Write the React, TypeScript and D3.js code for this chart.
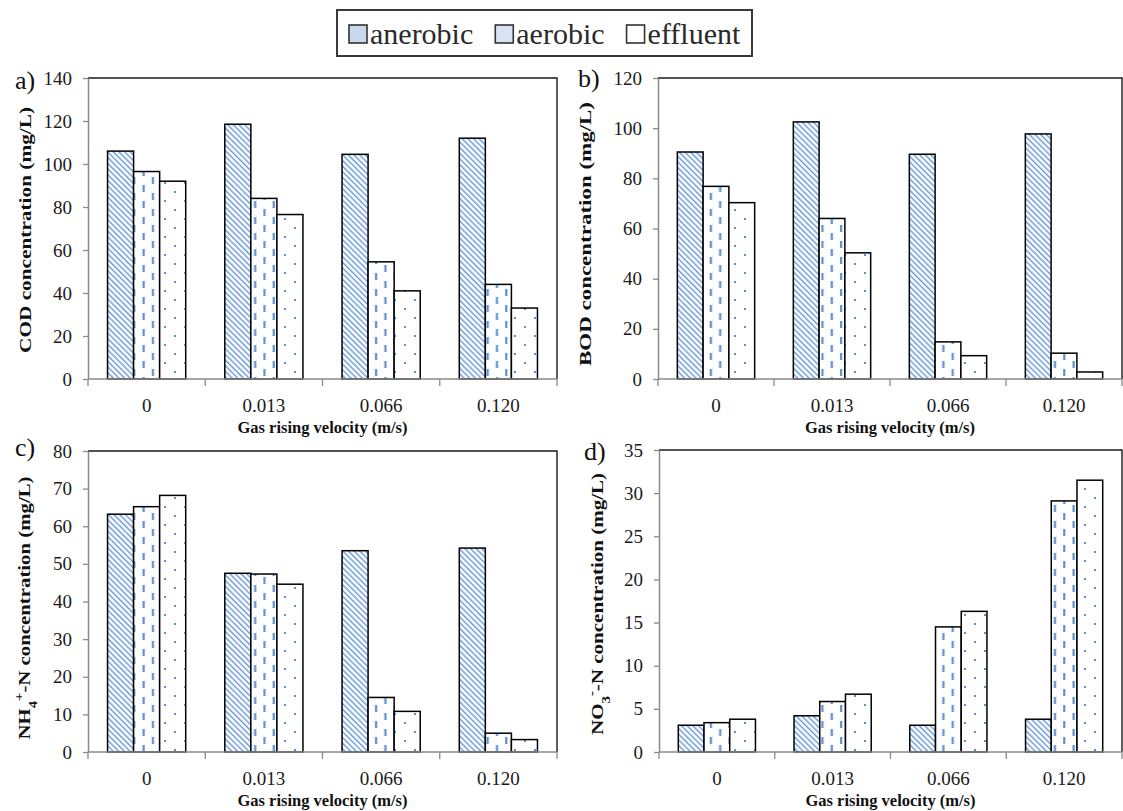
import React, { useEffect, useRef } from 'react';
import * as d3 from 'd3';

const categories = ['0', '0.013', '0.066', '0.120'];
const seriesNames = ['anerobic', 'aerobic', 'effluent'];

// a) COD
const codAnerobic = [106, 118.5, 104.5, 112];
const codAerobic = [96.5, 84, 54.5, 44];
const codEffluent = [92, 76.5, 41, 33];
const codTicks = [0, 20, 40, 60, 80, 100, 120, 140];

// b) BOD
const bodAnerobic = [90.5, 102.5, 89.6, 97.7];
const bodAerobic = [76.8, 64, 14.8, 10.3];
const bodEffluent = [70.3, 50.3, 9.3, 2.8];
const bodTicks = [0, 20, 40, 60, 80, 100, 120];

// c) NH4+-N
const nh4Anerobic = [63.2, 47.5, 53.5, 54.2];
const nh4Aerobic = [65.2, 47.3, 14.5, 5];
const nh4Effluent = [68.2, 44.6, 10.8, 3.3];
const nh4Ticks = [0, 10, 20, 30, 40, 50, 60, 70, 80];

// d) NO3--N
const no3Anerobic = [3.1, 4.2, 3.1, 3.8];
const no3Aerobic = [3.4, 5.85, 14.5, 29.1];
const no3Effluent = [3.8, 6.7, 16.3, 31.5];
const no3Ticks = [0, 5, 10, 15, 20, 25, 30, 35];

const SERIF = "'Liberation Serif', 'Times New Roman', Times, serif";
const BLUE = '#5b8fd4';

type Part = { t: string; shift?: string; size?: number };

interface Panel {
  label: string;
  values: number[][];
  ticks: number[];
  yTitle: Part[];
  box: { left: number; top: number; right: number; bottom: number };
  labelPos: [number, number];
  titleX: number;
  titleY: number;
  titleLen: number;
}

const panels: Panel[] = [
  {
    label: 'a)',
    values: [codAnerobic, codAerobic, codEffluent],
    ticks: codTicks,
    yTitle: [{ t: 'COD concentration (mg/L)' }],
    box: { left: 88, top: 78, right: 557, bottom: 379 },
    labelPos: [15, 89],
    titleX: 31,
    titleY: 230,
    titleLen: 246,
  },
  {
    label: 'b)',
    values: [bodAnerobic, bodAerobic, bodEffluent],
    ticks: bodTicks,
    yTitle: [{ t: 'BOD concentration (mg/L)' }],
    box: { left: 658, top: 78, right: 1122, bottom: 379 },
    labelPos: [578, 87],
    titleX: 591,
    titleY: 234,
    titleLen: 264,
  },
  {
    label: 'c)',
    values: [nh4Anerobic, nh4Aerobic, nh4Effluent],
    ticks: nh4Ticks,
    yTitle: [
      { t: 'NH' },
      { t: '4', shift: 'sub', size: 12 },
      { t: '+', shift: 'super', size: 12 },
      { t: '-N concentration (mg/L)' },
    ],
    box: { left: 88, top: 451, right: 557, bottom: 752 },
    labelPos: [15, 456],
    titleX: 30,
    titleY: 608,
    titleLen: 263,
  },
  {
    label: 'd)',
    values: [no3Anerobic, no3Aerobic, no3Effluent],
    ticks: no3Ticks,
    yTitle: [
      { t: 'NO' },
      { t: '3', shift: 'sub', size: 12 },
      { t: '-', shift: 'super', size: 12 },
      { t: '-N concentration (mg/L)' },
    ],
    box: { left: 659, top: 450, right: 1122, bottom: 752 },
    labelPos: [584, 460],
    titleX: 603,
    titleY: 604,
    titleLen: 262,
  },
];

const fills = ['url(#hatch)', 'url(#dash)', 'url(#dots)'];

export default function App() {
  const svgRef = useRef<SVGSVGElement>(null);

  useEffect(() => {
    if (!svgRef.current) return;
    const svg = d3.select(svgRef.current);
    svg.selectAll('*').remove();

    // patterns
    const defs = svg.append('defs');
    const hatch = defs.append('pattern')
      .attr('id', 'hatch')
      .attr('patternUnits', 'userSpaceOnUse')
      .attr('width', 4)
      .attr('height', 4)
      .attr('patternTransform', 'rotate(-45)');
    hatch.append('rect').attr('width', 4).attr('height', 4).attr('fill', '#fff');
    hatch.append('rect').attr('x', 0).attr('width', 1.4).attr('height', 4).attr('fill', '#6597d8');

    const dash = defs.append('pattern')
      .attr('id', 'dash')
      .attr('patternUnits', 'userSpaceOnUse')
      .attr('width', 18.6)
      .attr('height', 16);
    dash.append('rect').attr('width', 18.6).attr('height', 16).attr('fill', '#fff');
    dash.append('rect').attr('x', 3).attr('y', 1).attr('width', 2.2).attr('height', 7).attr('fill', BLUE);
    dash.append('rect').attr('x', 12.3).attr('y', 9).attr('width', 2.2).attr('height', 7).attr('fill', BLUE);

    const dots = defs.append('pattern')
      .attr('id', 'dots')
      .attr('patternUnits', 'userSpaceOnUse')
      .attr('width', 20)
      .attr('height', 18);
    dots.append('rect').attr('width', 20).attr('height', 18).attr('fill', '#fff');
    dots.append('rect').attr('x', 4).attr('y', 2).attr('width', 2).attr('height', 2).attr('fill', BLUE);
    dots.append('rect').attr('x', 14).attr('y', 11).attr('width', 2).attr('height', 2).attr('fill', BLUE);

    panels.forEach(p => {
      const { left, top, right, bottom } = p.box;
      const x = d3.scaleBand().domain(categories).range([left, right]);
      const barW = x.bandwidth() / 4.5;
      const xs = d3.scaleBand().domain(seriesNames).range([0, barW * 3]);
      const y = d3.scaleLinear().domain([0, p.ticks[p.ticks.length - 1]]).range([bottom, top]);
      const g = svg.append('g');

      // frame top/right
      g.append('path')
        .attr('d', `M${left},${top}H${right}V${bottom}`)
        .attr('fill', 'none')
        .attr('stroke', '#1a1a1a')
        .attr('stroke-width', 1.4);

      // bars
      seriesNames.forEach((s, si) => {
        g.append('g')
          .selectAll('rect')
          .data(p.values[si])
          .enter()
          .append('rect')
          .attr('x', (d, i) => (x(categories[i]) as number) + barW * 0.75 + (xs(s) as number))
          .attr('y', d => y(d))
          .attr('width', barW)
          .attr('height', d => bottom - y(d))
          .attr('fill', fills[si])
          .attr('stroke', '#000')
          .attr('stroke-width', 1.5);
      });

      // y axis
      const yAxis = d3.axisLeft(y).tickValues(p.ticks).tickSize(5).tickSizeOuter(0).tickPadding(11);
      const ya = g.append('g').attr('transform', `translate(${left},0)`).call(yAxis);
      ya.attr('font-family', null).attr('font-size', null);
      ya.select('.domain').attr('stroke', '#8a8a8a').attr('stroke-width', 1.5);
      ya.selectAll('.tick line').attr('stroke', '#8a8a8a').attr('stroke-width', 1.3);
      ya.selectAll('.tick text')
        .style('font-family', SERIF)
        .style('font-size', '19px')
        .attr('fill', '#1a1a1a');

      // x axis
      g.append('line')
        .attr('x1', left).attr('x2', right)
        .attr('y1', bottom).attr('y2', bottom)
        .attr('stroke', '#8a8a8a').attr('stroke-width', 1.5);
      const bounds = [...categories.map(c => x(c) as number), right];
      g.append('g')
        .selectAll('line')
        .data(bounds)
        .enter()
        .append('line')
        .attr('x1', d => d).attr('x2', d => d)
        .attr('y1', bottom).attr('y2', bottom + 7)
        .attr('stroke', '#8a8a8a').attr('stroke-width', 1.3);
      g.append('g')
        .selectAll('text')
        .data(categories)
        .enter()
        .append('text')
        .attr('x', c => (x(c) as number) + x.bandwidth() / 2)
        .attr('y', bottom + 33)
        .attr('text-anchor', 'middle')
        .style('font-family', SERIF)
        .style('font-size', '19px')
        .attr('fill', '#1a1a1a')
        .text(c => c);

      // x title
      g.append('text')
        .attr('x', (left + right) / 2)
        .attr('y', bottom + 54)
        .attr('text-anchor', 'middle')
        .style('font-family', SERIF)
        .style('font-weight', 'bold')
        .style('font-size', '16.5px')
        .attr('fill', '#111')
        .text('Gas rising velocity (m/s)');

      // y title
      const yt = g.append('text')
        .attr('transform', `translate(${p.titleX},${p.titleY}) rotate(-90)`)
        .attr('text-anchor', 'middle')
        .style('font-family', SERIF)
        .style('font-weight', 'bold')
        .style('font-size', '17px')
        .attr('fill', '#111')
        .attr('textLength', p.titleLen)
        .attr('lengthAdjust', 'spacingAndGlyphs');
      p.yTitle.forEach(part => {
        const ts = yt.append('tspan').text(part.t);
        if (part.shift) ts.attr('baseline-shift', part.shift).style('font-size', `${part.size}px`);
      });

      // panel letter
      g.append('text')
        .attr('x', p.labelPos[0])
        .attr('y', p.labelPos[1])
        .style('font-family', SERIF)
        .style('font-size', '26px')
        .attr('fill', '#111')
        .text(p.label);
    });

    // legend
    const legend = svg.append('g');
    legend.append('rect')
      .attr('x', 337).attr('y', 10)
      .attr('width', 415).attr('height', 46)
      .attr('fill', '#fff')
      .attr('stroke', '#3a3a3a')
      .attr('stroke-width', 2);
    const swatch = ['#c9d8ec', '#d8e4f3', '#ffffff'];
    let cursor = 349;
    seriesNames.forEach((s, i) => {
      legend.append('rect')
        .attr('x', cursor).attr('y', 25)
        .attr('width', 18).attr('height', 18)
        .attr('fill', swatch[i])
        .attr('stroke', '#333')
        .attr('stroke-width', 1.6);
      const t = legend.append('text')
        .attr('x', cursor + 21)
        .attr('y', 44)
        .style('font-family', SERIF)
        .style('font-size', '30px')
        .attr('fill', '#2a2a2a')
        .text(s);
      const w = (t.node() as SVGTextElement).getComputedTextLength();
      cursor += 21 + w + 22;
    });
  }, []);

  return (
    <svg
      ref={svgRef}
      width={1123}
      height={811}
      style={{ position: 'absolute', left: 0, top: 0, background: '#fff' }}
    />
  );
}
